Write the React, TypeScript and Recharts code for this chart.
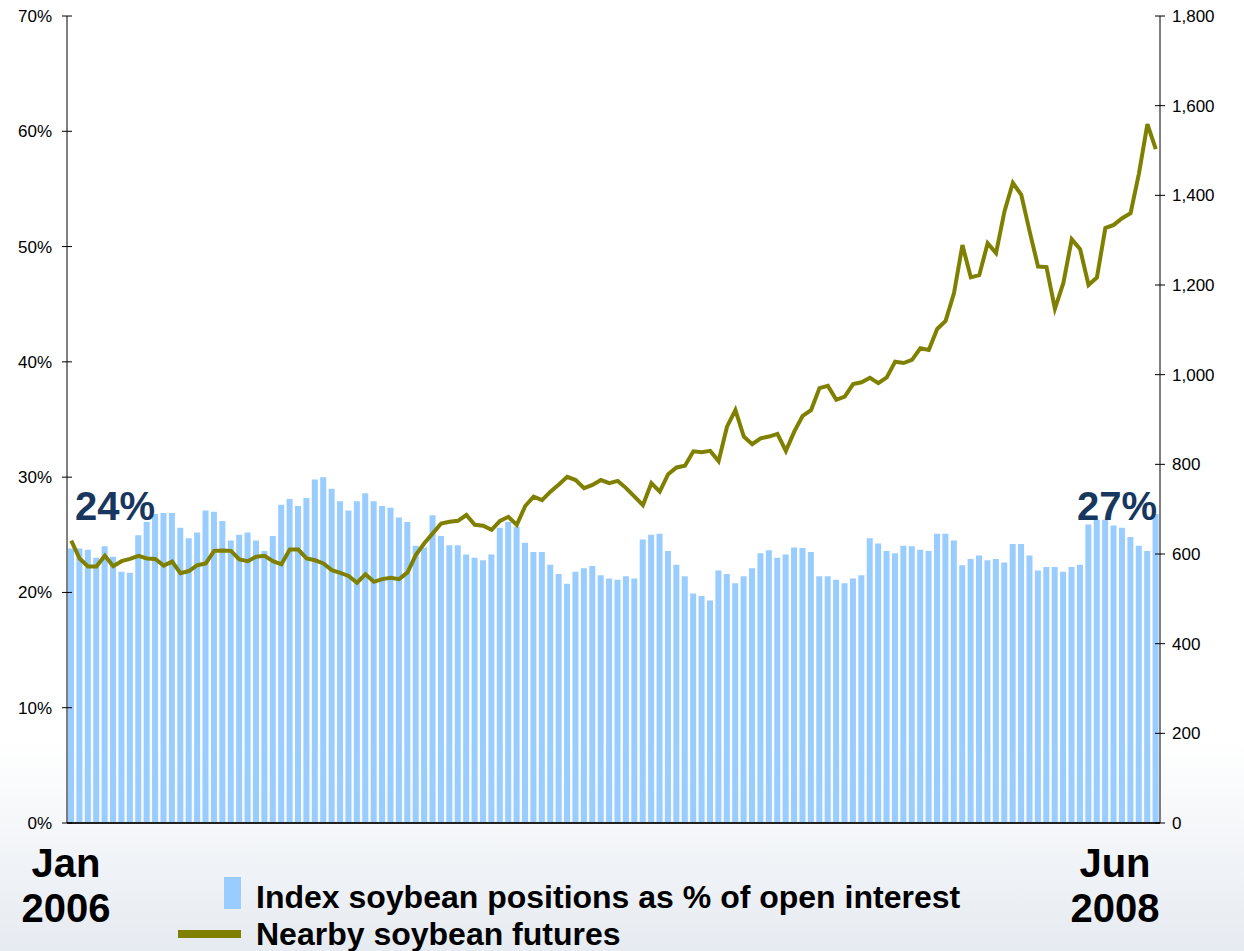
import { ComposedChart, Bar, Line, XAxis, YAxis } from 'recharts';

// index soybean positions, % of open interest (weekly, Jan 2006 - Jun 2008)
const indexShare = [
  23.8, 23.8, 23.7, 23.0, 24.0, 23.1, 21.8, 21.7, 24.95, 26.1,
  26.8, 26.9, 26.9, 25.6, 24.7, 25.2, 27.1, 27.0, 26.2, 24.5,
  25.0, 25.2, 24.5, 23.6, 24.9, 27.6, 28.1, 27.5, 28.2, 29.8,
  30.0, 29.0, 27.9, 27.1, 27.9, 28.6, 27.9, 27.5, 27.35, 26.5,
  26.1, 24.05, 23.9, 26.7, 24.9, 24.1, 24.1, 23.3, 23.0, 22.8,
  23.3, 25.6, 26.1, 25.7, 24.3, 23.5, 23.5, 22.4, 21.6, 20.75,
  21.8, 22.1, 22.3, 21.5, 21.2, 21.1, 21.4, 21.2, 24.6, 25.0,
  25.1, 23.6, 22.4, 21.4, 19.9, 19.7, 19.3, 21.9, 21.6, 20.8,
  21.4, 22.1, 23.4, 23.65, 23.0, 23.3, 23.9, 23.85, 23.5, 21.4,
  21.4, 21.1, 20.8, 21.2, 21.5, 24.7, 24.25, 23.6, 23.4, 24.05,
  24.0, 23.7, 23.6, 25.1, 25.1, 24.5, 22.35, 22.9, 23.2, 22.8,
  22.9, 22.6, 24.2, 24.2, 23.2, 21.9, 22.2, 22.2, 21.8, 22.2,
  22.4, 25.9, 26.3, 26.3, 25.8, 25.6, 24.8, 24.05, 23.6, 26.8,
];

// nearby soybean futures, cents/bushel
const nearbyFutures = [
  630, 590, 572, 572, 596, 573, 584, 589, 596, 590,
  589, 574, 583, 557, 562, 575, 579, 607, 608, 607,
  588, 584, 594, 596, 584, 577, 610, 610, 590, 586,
  579, 564, 558, 551, 536, 555, 538, 544, 547, 544,
  559, 598, 624, 646, 668, 672, 674, 687, 665, 663,
  654, 674, 683, 665, 707, 728, 720, 739, 755, 772,
  765, 747, 754, 765, 758, 763, 747, 728, 709, 758,
  739, 778, 793, 797, 829, 827, 830, 807, 884, 921,
  862, 845, 858, 862, 868, 830, 873, 908, 921, 970,
  975, 944, 951, 979, 983, 993, 981, 994, 1029, 1026,
  1033, 1059, 1055, 1102, 1120, 1182, 1289, 1217, 1222, 1293,
  1271, 1364, 1428, 1401, 1319, 1241, 1240, 1147, 1204, 1302,
  1280, 1200, 1217, 1327, 1334, 1349, 1360, 1449, 1559, 1503,
];

const pctTicks = [0, 10, 20, 30, 40, 50, 60, 70];
const priceTicks = [0, 200, 400, 600, 800, 1000, 1200, 1400, 1600, 1800];

const BAR_COLOR = '#99CCFF';
const LINE_COLOR = '#808000';
const NAVY = '#17375E';
const FONT = "Arial, 'Liberation Sans', sans-serif";

const data = indexShare.map((share, i) => ({
  week: i,
  share,
  price: nearbyFutures[i],
}));

function LeftTick({ x, y, payload }: any) {
  return (
    <g>
      <line x1={x + 10} x2={x + 20} y1={y} y2={y} stroke="#000" />
      <text x={x} y={y} dy="0.35em" textAnchor="end" fontSize={17} fontFamily={FONT} fill="#000">
        {payload.value}%
      </text>
    </g>
  );
}

function RightTick({ x, y, payload }: any) {
  return (
    <g>
      <line x1={x - 17} x2={x - 7} y1={y} y2={y} stroke="#000" />
      <text x={x} y={y} dy="0.35em" textAnchor="start" fontSize={17} fontFamily={FONT} fill="#000">
        {payload.value.toLocaleString('en-US')}
      </text>
    </g>
  );
}

export default function App() {
  return (
    <div
      style={{
        position: 'absolute',
        left: 0,
        top: 0,
        width: 1244,
        height: 951,
        overflow: 'hidden',
        background: 'linear-gradient(to bottom, #ffffff 0%, #ffffff 78%, #e6ebf1 100%)',
      }}
    >
      <ComposedChart
        width={1244}
        height={951}
        data={data}
        margin={{ top: 16, right: 14, bottom: 127, left: 7 }}
        barCategoryGap={0}
      >
        <XAxis
          dataKey="week"
          height={1}
          tick={false}
          tickLine={false}
          axisLine={{ stroke: '#222', strokeWidth: 2 }}
        />
        <YAxis
          yAxisId="left"
          width={60}
          domain={[0, 70]}
          ticks={pctTicks}
          interval={0}
          tickSize={5}
          tickMargin={10}
          tickLine={false}
          axisLine={{ stroke: '#000' }}
          tick={<LeftTick />}
        />
        <YAxis
          yAxisId="right"
          orientation="right"
          width={70}
          domain={[0, 1800]}
          ticks={priceTicks}
          interval={0}
          tickSize={5}
          tickMargin={7}
          tickLine={false}
          axisLine={{ stroke: '#000' }}
          tick={<RightTick />}
        />
        <Bar yAxisId="left" dataKey="share" fill={BAR_COLOR} barSize={6} isAnimationActive={false} />
        <Line
          yAxisId="right"
          dataKey="price"
          type="linear"
          stroke={LINE_COLOR}
          strokeWidth={4}
          dot={false}
          isAnimationActive={false}
        />
      </ComposedChart>

      <svg
        width={1244}
        height={951}
        style={{ position: 'absolute', left: 0, top: 0, pointerEvents: 'none' }}
        fontFamily={FONT}
        fontWeight="bold"
      >
        <text x={75} y={520} fontSize={40} fill={NAVY}>24%</text>
        <text x={1157} y={520} fontSize={40} fill={NAVY} textAnchor="end">27%</text>

        <text x={66} y={877} fontSize={40} textAnchor="middle">Jan</text>
        <text x={66} y={922} fontSize={40} textAnchor="middle">2006</text>
        <text x={1115} y={877} fontSize={40} textAnchor="middle">Jun</text>
        <text x={1115} y={922} fontSize={40} textAnchor="middle">2008</text>

        <rect x={224} y={877} width={17} height={32} fill={BAR_COLOR} />
        <text x={256} y={908} fontSize={32}>Index soybean positions as % of open interest</text>
        <rect x={178} y={930} width={63} height={8} fill={LINE_COLOR} />
        <text x={256} y={945} fontSize={32}>Nearby soybean futures</text>
      </svg>
    </div>
  );
}
